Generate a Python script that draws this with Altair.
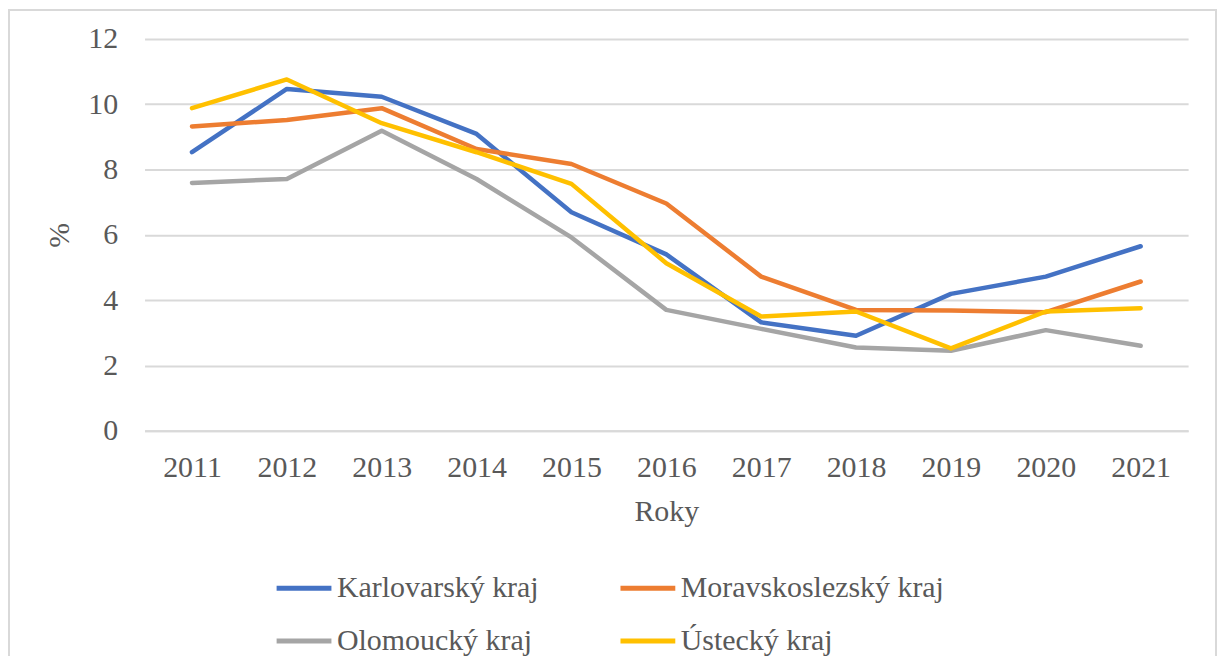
import altair as alt
import pandas as pd

years = ["2011", "2012", "2013", "2014", "2015", "2016", "2017", "2018", "2019", "2020", "2021"]
series_names = ["Karlovarský kraj", "Moravskoslezský kraj", "Olomoucký kraj", "Ústecký kraj"]
karlovarsky = [8.53, 10.47, 10.23, 9.09, 6.69, 5.40, 3.32, 2.91, 4.19, 4.72, 5.65]
moravskoslezsky = [9.32, 9.52, 9.88, 8.63, 8.17, 6.96, 4.72, 3.70, 3.68, 3.63, 4.57]
olomoucky = [7.59, 7.71, 9.19, 7.71, 5.92, 3.70, 3.12, 2.55, 2.45, 3.08, 2.60]
ustecky = [9.88, 10.76, 9.42, 8.53, 7.56, 5.13, 3.50, 3.65, 2.52, 3.65, 3.75]
colors = ["#4472C4", "#ED7D31", "#A5A5A5", "#FFC000"]
y_ticks = [0, 2, 4, 6, 8, 10, 12]

rows = []
for name, vals in zip(series_names, [karlovarsky, moravskoslezsky, olomoucky, ustecky]):
    for yr, v in zip(years, vals):
        rows.append({"Rok": yr, "Hodnota": v, "Kraj": name})
df = pd.DataFrame(rows)

# legend grid is filled column by column -> order domain so rows read K, M / O, Ú
legend_order = [series_names[0], series_names[2], series_names[1], series_names[3]]
legend_colors = [colors[0], colors[2], colors[1], colors[3]]

FONT = "Liberation Serif"
TXT = "#595959"
GRID = "#d9d9d9"

lines = alt.Chart(df).mark_line(strokeWidth=4.5, strokeCap="round", strokeJoin="round").encode(
    x=alt.X("Rok:O", sort=years,
            scale=alt.Scale(type="point", padding=0.5),
            axis=alt.Axis(title="Roky", labelAngle=0, ticks=False, grid=False,
                          domain=True, domainColor=GRID, domainWidth=2,
                          labelFont=FONT, labelFontSize=30, labelColor=TXT, labelPadding=22,
                          titleFont=FONT, titleFontSize=30, titleColor=TXT, titleFontWeight="normal",
                          titlePadding=14)),
    y=alt.Y("Hodnota:Q",
            scale=alt.Scale(domain=[0, 12], nice=False),
            axis=alt.Axis(title="%", values=y_ticks, ticks=False, domain=False,
                          grid=True, gridColor=GRID, gridWidth=2,
                          labelFont=FONT, labelFontSize=30, labelColor=TXT, labelPadding=27,
                          titleFont=FONT, titleFontSize=30, titleColor=TXT, titleFontWeight="normal",
                          titlePadding=13)),
    color=alt.Color("Kraj:N",
                    scale=alt.Scale(domain=legend_order, range=legend_colors),
                    legend=alt.Legend(title=None, orient="none", legendX=130, legendY=521,
                                      columns=2, symbolType="stroke", symbolSize=3025,
                                      symbolStrokeWidth=5, labelFont=FONT, labelFontSize=30,
                                      labelColor=TXT, labelOffset=3, columnPadding=71,
                                      rowPadding=8, padding=0, labelLimit=400)),
)

frame = alt.Chart(pd.DataFrame({"a": [0]})).mark_rect(
    fill="transparent", stroke=GRID, strokeWidth=2, clip=False
).encode(
    x=alt.value(-136), x2=alt.value(1075), y=alt.value(-29), y2=alt.value(700)
)

chart = alt.layer(frame, lines).properties(
    width=1047, height=393,
    autosize=alt.AutoSizeParams(type="none"),
    padding={"left": 137, "top": 30, "right": 31, "bottom": 225},
).configure(background="white").configure_view(stroke=None)

chart.save("out.html", embed_options={"renderer": "svg", "actions": False})
